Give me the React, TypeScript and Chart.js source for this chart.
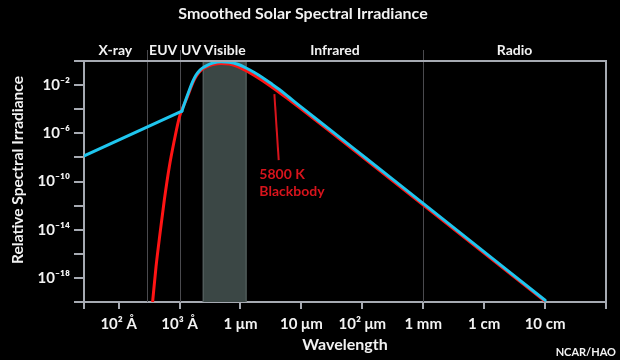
import React, { useEffect, useRef } from "react";
import { Chart, registerables } from "chart.js";

Chart.register(...registerables);

// ---------- data (wavelength in Å, relative spectral irradiance) ----------
const solarXrayWavelength = [26.6, 1091];
const solarXrayIrradiance = [1.29e-8, 6.9e-5];

const solarWavelength = [
  1091, 1279, 1449, 1641, 1866, 2113, 2393, 2891, 3491, 4797, 6561, 8995, 12360,
  16900, 23120, 31770, 43450, 63390, 92680, 316200, 1.153e6, 2.084e7, 1e9,
];
const solarIrradiance = [
  6.9e-5, 6.9e-4, 3.9e-3, 1.95e-2, 6.8e-2, 0.158, 0.269, 0.457, 0.661, 0.851, 0.776,
  0.537, 0.263, 0.112, 0.0417, 0.0135, 4.27e-3, 9.3e-4, 2.0e-4, 1.51e-6, 8.5e-9, 7.9e-14,
  1.41e-20,
];

const blackbodyWavelength = [
  361, 411, 479, 562, 679, 822, 966, 1059, 1279, 1449, 1641, 1866, 2113, 2393, 2891,
  3491, 4797, 6561, 8995, 12360, 16900, 23120, 31770, 43450, 63390, 92680, 316200,
  1.153e6, 2.084e7, 1e9,
];
const blackbodyIrradiance = [
  1.0e-20, 8.5e-18, 5.4e-15, 2.9e-12, 1.7e-9, 2.75e-7, 1.26e-5, 6.2e-5, 5.75e-4, 2.88e-3,
  1.48e-2, 5.13e-2, 0.12, 0.214, 0.363, 0.501, 0.631, 0.55, 0.347, 0.158, 0.0631, 0.0229,
  7.59e-3, 2.45e-3, 5.89e-4, 1.38e-4, 1.1e-6, 6.31e-9, 6.03e-14, 1.15e-20,
];

const xMin = 27;
const xMax = 1e10;
const xTickValues = [1e2, 1e3, 1e4, 1e5, 1e6, 1e7, 1e8, 1e9];
const xTickLabels = ["10² Å", "10³ Å", "1 μm", "10 μm", "10² μm", "1 mm", "1 cm", "10 cm"];

const yMin = 1e-20;
const yMax = 1;
const yTickExponents = [0, -2, -4, -6, -8, -10, -12, -14, -16, -18, -20];
const yLabelExponents = [-2, -6, -10, -14, -18];
const yTickLabels = ["10⁻²", "10⁻⁶", "10⁻¹⁰", "10⁻¹⁴", "10⁻¹⁸"];

const regionNames = ["X-ray", "EUV", "UV", "Visible", "Infrared", "Radio"];
const regionEdges = [27, 290, 1000, 2400, 12600, 1e7, 1e10];
const dividerWavelengths = [290, 1000, 1e7];
const visibleBand = [2400, 12600];

const annotationLines = ["5800 K", "Blackbody"];
const annotationWavelength = 20400;
const annotationIrradiance = [4.2e-10, 1.4e-11];
const pointerWavelength = [36000, 42400];
const pointerIrradiance = [1.8e-3, 6e-9];

// ---------- styles ----------
const FONT = 'Lato, "DejaVu Sans Condensed", sans-serif';
const AXIS = "#a6aab2";
const TEXT = "#f2f2f2";
const BLUE = "#1fc6ef";
const RED = "#ff1414";
const LABEL_RED = "#d8141c";

const toPoints = (xs: number[], ys: number[]) => xs.map((x, i) => ({ x, y: ys[i] }));

const decorPlugin = {
  id: "decor",
  beforeDatasetsDraw(chart: any) {
    const { ctx, chartArea: a, scales } = chart;
    const xs = scales.x;
    ctx.save();
    const v0 = xs.getPixelForValue(visibleBand[0]);
    const v1 = xs.getPixelForValue(visibleBand[1]);
    ctx.fillStyle = "#3b4745";
    ctx.fillRect(v0, a.top, v1 - v0, a.bottom - a.top);
    ctx.strokeStyle = "#5a6664";
    ctx.lineWidth = 1;
    ctx.beginPath();
    ctx.moveTo(v0 + 0.5, a.top);
    ctx.lineTo(v0 + 0.5, a.bottom);
    ctx.moveTo(v1 - 0.5, a.top);
    ctx.lineTo(v1 - 0.5, a.bottom);
    ctx.stroke();
    ctx.strokeStyle = "#4a4a4e";
    ctx.beginPath();
    dividerWavelengths.forEach((w) => {
      const px = Math.round(xs.getPixelForValue(w)) + 0.5;
      ctx.moveTo(px, a.top - 11);
      ctx.lineTo(px, a.bottom);
    });
    ctx.stroke();
    ctx.restore();
  },
  afterDraw(chart: any) {
    const { ctx, chartArea: a, scales } = chart;
    const xs = scales.x;
    const ys = scales.y;
    ctx.save();
    // frame top and right
    ctx.strokeStyle = AXIS;
    ctx.lineWidth = 2;
    ctx.beginPath();
    ctx.moveTo(a.left, a.top);
    ctx.lineTo(a.right, a.top);
    ctx.lineTo(a.right, a.bottom);
    ctx.stroke();

    // region labels
    ctx.fillStyle = TEXT;
    ctx.font = `bold 14px ${FONT}`;
    ctx.textAlign = "center";
    ctx.textBaseline = "middle";
    regionNames.forEach((name, i) => {
      const p0 = xs.getPixelForValue(regionEdges[i]);
      const p1 = xs.getPixelForValue(regionEdges[i + 1]);
      ctx.fillText(name, (p0 + p1) / 2, a.top - 11);
    });

    // blackbody annotation
    ctx.strokeStyle = LABEL_RED;
    ctx.lineWidth = 2;
    ctx.beginPath();
    ctx.moveTo(xs.getPixelForValue(pointerWavelength[0]), ys.getPixelForValue(pointerIrradiance[0]));
    ctx.lineTo(xs.getPixelForValue(pointerWavelength[1]), ys.getPixelForValue(pointerIrradiance[1]));
    ctx.stroke();
    ctx.fillStyle = LABEL_RED;
    ctx.font = `bold 14px ${FONT}`;
    ctx.textAlign = "left";
    annotationLines.forEach((t, i) => {
      ctx.fillText(t, xs.getPixelForValue(annotationWavelength), ys.getPixelForValue(annotationIrradiance[i]));
    });

    // y-axis title
    ctx.fillStyle = TEXT;
    ctx.font = `bold 15.5px ${FONT}`;
    ctx.textAlign = "center";
    ctx.translate(18, 170);
    ctx.rotate(-Math.PI / 2);
    ctx.fillText("Relative Spectral Irradiance", 0, 0);
    ctx.setTransform(1, 0, 0, 1, 0, 0);

    // credit
    ctx.font = `bold 11px ${FONT}`;
    ctx.textAlign = "right";
    ctx.fillText("NCAR/HAO", 616, 352);
    ctx.restore();
  },
};

export default function App() {
  const canvasRef = useRef<HTMLCanvasElement | null>(null);

  useEffect(() => {
    document.body.style.margin = "0";
    document.body.style.background = "#000";
    const canvas = canvasRef.current;
    if (!canvas) return;
    const chart = new Chart(canvas, {
      type: "line",
      data: {
        datasets: [
          {
            label: "Solar X-ray",
            data: toPoints(solarXrayWavelength, solarXrayIrradiance),
            borderColor: BLUE,
            borderWidth: 3,
            borderCapStyle: "round",
            pointRadius: 0,
            tension: 0,
            order: 0,
          },
          {
            label: "Sun",
            data: toPoints(solarWavelength, solarIrradiance),
            borderColor: BLUE,
            borderWidth: 3,
            borderCapStyle: "round",
            pointRadius: 0,
            cubicInterpolationMode: "monotone",
            order: 0,
          },
          {
            label: "5800 K Blackbody",
            data: toPoints(blackbodyWavelength, blackbodyIrradiance),
            borderColor: RED,
            borderWidth: 3,
            pointRadius: 0,
            cubicInterpolationMode: "monotone",
            order: 1,
          },
        ],
      },
      options: {
        animation: false,
        responsive: false,
        events: [],
        layout: { padding: { left: 0, right: 14, top: 0, bottom: 0 } },
        plugins: {
          legend: { display: false },
          tooltip: { enabled: false },
          title: {
            display: true,
            text: "Smoothed Solar Spectral Irradiance",
            color: TEXT,
            font: { family: FONT, size: 16, weight: "bold" },
            padding: { top: 4, bottom: 37.8 },
          },
        },
        scales: {
          x: {
            type: "logarithmic",
            min: xMin,
            max: xMax,
            afterFit: (scale: any) => {
              scale.height = 58;
            },
            afterBuildTicks: (scale: any) => {
              scale.ticks = [xMin, ...xTickValues, xMax].map((v) => ({ value: v }));
            },
            ticks: {
              autoSkip: false,
              maxRotation: 0,
              color: TEXT,
              padding: 6,
              font: { family: FONT, size: 15, weight: "bold" },
              callback: (value: any) => {
                const i = xTickValues.findIndex((t) => Math.abs(Math.log10(t) - Math.log10(value)) < 1e-6);
                return i >= 0 ? xTickLabels[i] : "";
              },
            },
            grid: { drawOnChartArea: false, drawTicks: true, tickLength: 7, color: AXIS, lineWidth: 2 },
            border: { display: true, color: AXIS, width: 2 },
            title: {
              display: true,
              text: "Wavelength",
              color: TEXT,
              font: { family: FONT, size: 16, weight: "bold" },
              padding: { top: 0, bottom: 6 },
            },
          },
          y: {
            type: "logarithmic",
            min: yMin,
            max: yMax,
            afterFit: (scale: any) => {
              scale.width = 84;
            },
            afterBuildTicks: (scale: any) => {
              scale.ticks = yTickExponents.map((e) => ({ value: Math.pow(10, e) }));
            },
            ticks: {
              autoSkip: false,
              color: TEXT,
              padding: 4,
              font: { family: FONT, size: 15, weight: "bold" },
              callback: (value: any) => {
                const e = Math.round(Math.log10(value));
                const i = yLabelExponents.indexOf(e);
                return i >= 0 ? yTickLabels[i] : "";
              },
            },
            grid: { drawOnChartArea: false, drawTicks: true, tickLength: 10, color: AXIS, lineWidth: 2 },
            border: { display: true, color: AXIS, width: 2 },
          },
        },
      },
      plugins: [decorPlugin],
    } as any);
    return () => chart.destroy();
  }, []);

  return (
    <div style={{ position: "fixed", left: 0, top: 0, width: 620, height: 360, background: "#000" }}>
      <canvas ref={canvasRef} width={620} height={360} style={{ display: "block" }} />
    </div>
  );
}
